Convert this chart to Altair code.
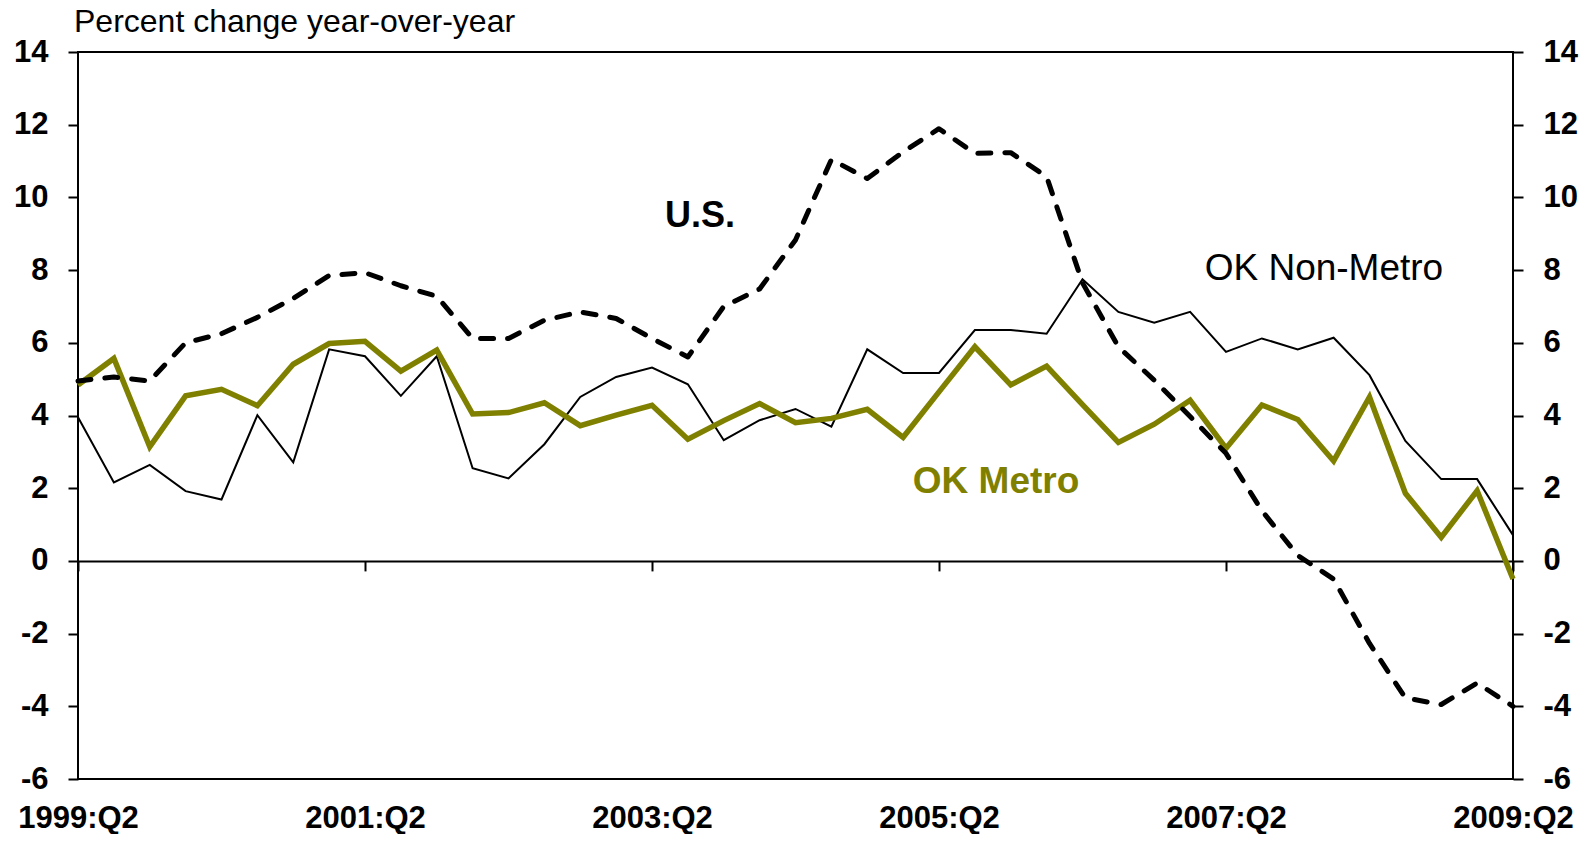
import json
import altair as alt
import pandas as pd

# ---------------- data ----------------
quarter_index = list(range(41))  # 1999:Q2 ... 2009:Q2

us = [4.95, 5.06, 4.95, 6.00, 6.25, 6.70, 7.22, 7.85, 7.93, 7.57,
      7.28, 6.12, 6.12, 6.62, 6.85, 6.67, 6.12, 5.61, 7.00, 7.48,
      8.83, 11.04, 10.52, 11.25, 11.89, 11.21, 11.23, 10.57, 7.65, 5.89,
      4.97, 3.97, 2.96, 1.38, 0.15, -0.50, -2.27, -3.77, -3.95, -3.36,
      -4.00]

ok_metro = [4.84, 5.57, 3.14, 4.54, 4.72, 4.27, 5.41, 5.98, 6.04, 5.22,
            5.80, 4.04, 4.08, 4.35, 3.72, 4.01, 4.28, 3.35, 3.86, 4.33,
            3.80, 3.92, 4.17, 3.40, 4.65, 5.89, 4.84, 5.36, 4.30, 3.26,
            3.76, 4.42, 3.10, 4.29, 3.89, 2.75, 4.51, 1.86, 0.65, 1.93,
            -0.50]

ok_nonmetro = [3.95, 2.16, 2.64, 1.92, 1.69, 4.01, 2.71, 5.82, 5.63, 4.54,
               5.63, 2.55, 2.27, 3.21, 4.51, 5.06, 5.32, 4.86, 3.32, 3.87,
               4.18, 3.69, 5.82, 5.17, 5.17, 6.35, 6.35, 6.25, 7.75, 6.85,
               6.55, 6.85, 5.75, 6.12, 5.82, 6.14, 5.11, 3.30, 2.25, 2.25,
               0.71]

tick_positions = [0, 8, 16, 24, 32, 40]
tick_labels = ["1999:Q2", "2001:Q2", "2003:Q2", "2005:Q2", "2007:Q2", "2009:Q2"]
y_ticks = [-6, -4, -2, 0, 2, 4, 6, 8, 10, 12, 14]

ann_text = ["U.S.", "OK Non-Metro", "OK Metro"]
ann_x = [17.34, 34.73, 25.59]
ann_y = [9.18, 7.74, 1.87]

title_text = ["Percent change year-over-year"]

# ---------------- styling ----------------
FONT = "Liberation Sans, Arial, Helvetica, sans-serif"
OLIVE = "#808000"
W, H = 1435, 727

x_scale = alt.Scale(domain=[0, 40], nice=False, zero=False)
y_scale = alt.Scale(domain=[-6, 14], nice=False, zero=False)

label_expr = json.dumps(tick_labels) + "[round(datum.value / 8)]"

x_axis_bottom = alt.Axis(
    orient="bottom", values=tick_positions, labelExpr=label_expr,
    ticks=False, domain=False, grid=False, title=None,
    labelFont=FONT, labelFontSize=31, labelFontWeight="bold",
    labelColor="black", labelPadding=24, labelFlush=False,
    labelOverlap=False,
)
x_axis_zero = alt.Axis(
    orient="bottom", values=tick_positions, labels=False,
    ticks=True, tickSize=10, tickWidth=2, tickColor="black",
    domain=True, domainColor="black", domainWidth=2,
    grid=False, title=None, offset=-(H * 6 / 20),
)
y_axis_common = dict(
    values=y_ticks, grid=False, title=None, domain=False,
    ticks=True, tickSize=10, tickWidth=2, tickColor="black",
    labelFont=FONT, labelFontSize=31, labelFontWeight="bold",
    labelColor="black", labelPadding=20, labelOverlap=False,
    labelExpr="'' + datum.value",
)
y_axis_left = alt.Axis(orient="left", **y_axis_common)
y_axis_right = alt.Axis(orient="right", **y_axis_common)

df_us = pd.DataFrame({"q": quarter_index, "v": us})
df_metro = pd.DataFrame({"q": quarter_index, "v": ok_metro})
df_non = pd.DataFrame({"q": quarter_index, "v": ok_nonmetro})

non_layer = alt.Chart(df_non).mark_line(
    color="black", strokeWidth=2, strokeJoin="miter"
).encode(
    x=alt.X("q:Q", scale=x_scale, axis=x_axis_zero),
    y=alt.Y("v:Q", scale=y_scale, axis=y_axis_right),
)

metro_layer = alt.Chart(df_metro).mark_line(
    color=OLIVE, strokeWidth=5.5, strokeJoin="miter"
).encode(
    x=alt.X("q:Q", scale=x_scale, axis=None),
    y=alt.Y("v:Q", scale=y_scale, axis=None),
)

us_layer = alt.Chart(df_us).mark_line(
    color="black", strokeWidth=5, strokeDash=[13, 14], strokeCap="round",
    strokeJoin="round",
).encode(
    x=alt.X("q:Q", scale=x_scale, axis=x_axis_bottom),
    y=alt.Y("v:Q", scale=y_scale, axis=y_axis_left),
)

ann_styles = [
    dict(color="black", fontWeight="bold", fontSize=36),
    dict(color="black", fontWeight="normal", fontSize=37),
    dict(color=OLIVE, fontWeight="bold", fontSize=37),
]
text_layers = []
for t, ax, ay, st in zip(ann_text, ann_x, ann_y, ann_styles):
    d = pd.DataFrame({"x": [ax], "y": [ay], "t": [t]})
    text_layers.append(
        alt.Chart(d).mark_text(
            font=FONT, align="center", baseline="alphabetic", **st
        ).encode(
            x=alt.X("x:Q", scale=x_scale, axis=None),
            y=alt.Y("y:Q", scale=y_scale, axis=None),
            text="t:N",
        )
    )

# unit title above the plot area (left-aligned with the frame)
title_layer = alt.Chart(pd.DataFrame({"t": title_text})).mark_text(
    font=FONT, fontSize=32, fontWeight="normal", color="black",
    align="left", baseline="alphabetic",
).encode(
    x=alt.value(-4),
    y=alt.value(-20),
    text="t:N",
)

chart = alt.layer(
    non_layer, metro_layer, us_layer, *text_layers, title_layer
).resolve_axis(
    x="independent", y="independent"
).properties(
    width=W,
    height=H,
    autosize=alt.AutoSizeParams(type="none"),
    padding={"left": 70, "top": 44, "right": 70, "bottom": 55},
).configure_view(stroke="black", strokeWidth=2)

chart.save("out.html", embed_options={"renderer": "svg", "actions": False})
